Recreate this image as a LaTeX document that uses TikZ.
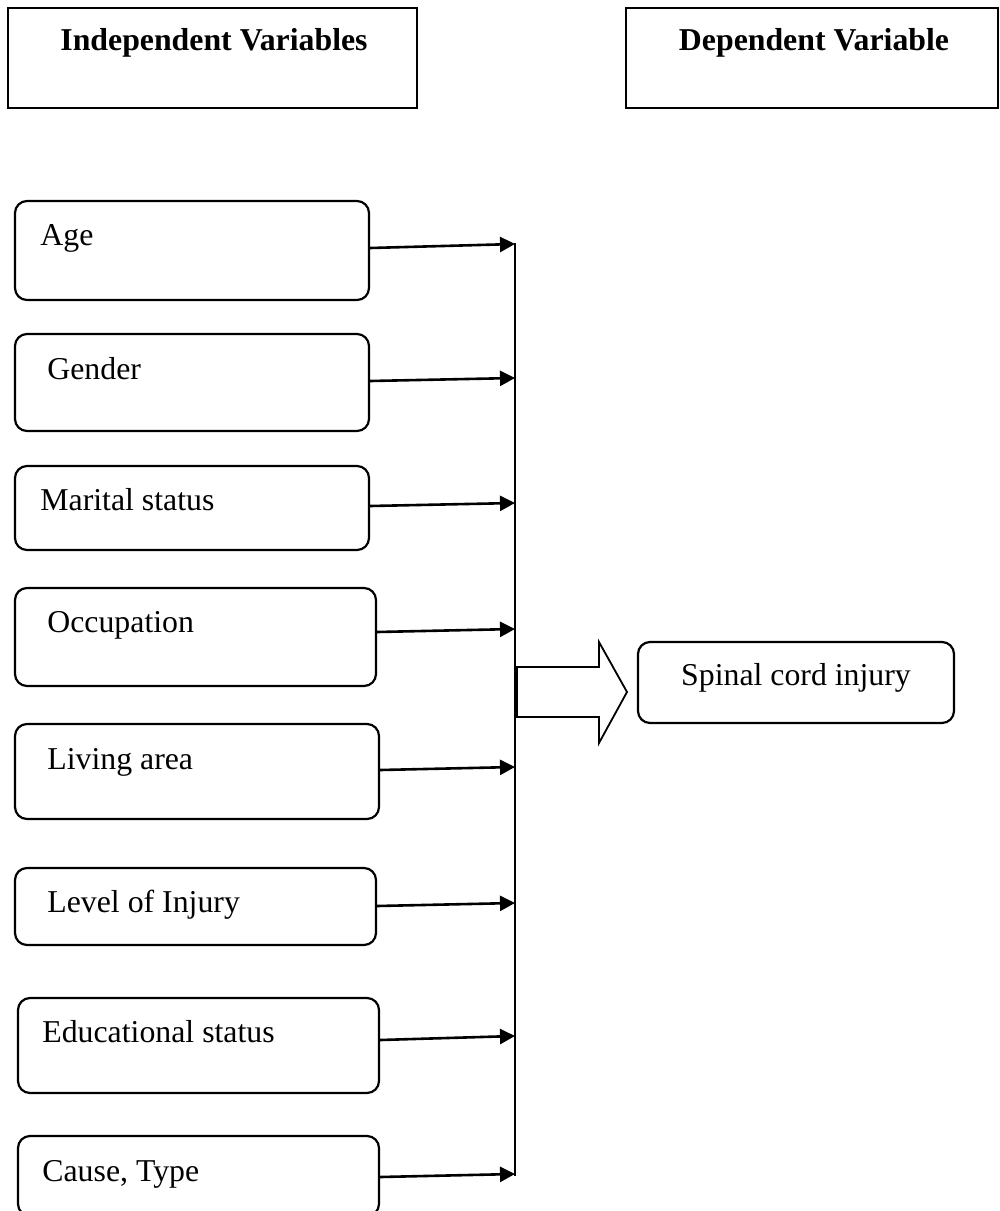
\documentclass[tikz,border=0pt]{standalone}
\usepackage{fontspec}
\setmainfont{Liberation Serif}
\usetikzlibrary{arrows.meta,calc,fit}
\begin{document}
\begin{tikzpicture}[x=0.5pt,y=-0.5pt,
  font=\fontsize{15.9}{19}\selectfont,
  hbox/.style={draw,line width=1.1pt,inner sep=0pt},
  ibox/.style={draw,line width=1.1pt,rounded corners=6pt,inner sep=0pt},
  lbl/.style={anchor=base west,inner sep=0pt},
  head/.style={anchor=base,inner sep=0pt,font=\fontsize{15.9}{19}\selectfont\bfseries},
  feed/.style={line width=1.3pt,-{Triangle[length=7.5pt,width=7.5pt]}},
  bus/.style={line width=0.85pt},
  bigarrow/.style={draw,line width=0.9pt,fill=white},
]
\useasboundingbox (0,0) rectangle (1000,1211);

% header boxes
\node[hbox,fit={(8,8)(417,108)}] (indep) {};
\node[hbox,fit={(626,8)(998,108)}] (dep) {};
\node[head] (indepT) at (214,50) {Independent Variables};
\node[head] (depT) at (814,50) {Dependent Variable};

% independent variable boxes
\node[ibox,fit={(15,201)(369,300)}] (age) {};
\node[ibox,fit={(15,334)(369,431)}] (gender) {};
\node[ibox,fit={(15,466)(369,550)}] (marital) {};
\node[ibox,fit={(15,588)(376,686)}] (occ) {};
\node[ibox,fit={(15,724)(379,819)}] (living) {};
\node[ibox,fit={(15,868)(376,945)}] (level) {};
\node[ibox,fit={(18,998)(379,1093)}] (edu) {};
\node[ibox,fit={(18,1136)(379,1216)}] (cause) {};

\node[lbl] (ageT) at (40,245) {Age};
\node[lbl] (genderT) at (47,379) {Gender};
\node[lbl] (maritalT) at (40,510) {Marital status};
\node[lbl] (occT) at (47,632) {Occupation};
\node[lbl] (livingT) at (47,769) {Living area};
\node[lbl] (levelT) at (47,912) {Level of Injury};
\node[lbl] (eduT) at (42,1042) {Educational status};
\node[lbl] (causeT) at (42,1181) {Cause, Type};

% bus line
\coordinate (busTop) at (515,243);
\coordinate (busBot) at (515,1176);
\draw[bus] (busTop) -- (busBot);

\coordinate (tAge) at (515,244);
\coordinate (tGender) at (515,378);
\coordinate (tMarital) at (515,503);
\coordinate (tOcc) at (515,629);
\coordinate (tLiving) at (515,767);
\coordinate (tLevel) at (515,903);
\coordinate (tEdu) at (515,1036);
\coordinate (tCause) at (515,1174);

\draw[feed] ($(age.east)+(0,-2.5)$) -- (tAge);
\draw[feed] ($(gender.east)+(0,-1.5)$) -- (tGender);
\draw[feed] ($(marital.east)+(0,-2)$) -- (tMarital);
\draw[feed] ($(occ.east)+(0,-5)$) -- (tOcc);
\draw[feed] ($(living.east)+(0,-1.5)$) -- (tLiving);
\draw[feed] ($(level.east)+(0,-0.5)$) -- (tLevel);
\draw[feed] ($(edu.east)+(0,-5.5)$) -- (tEdu);
\draw[feed] ($(cause.east)+(0,1)$) -- (tCause);

% block arrow
\draw[bigarrow] (517,667) -- (599,667) -- (599,642) -- (627,692) -- (599,743) -- (599,717) -- (517,717) -- cycle;

% dependent variable box
\node[ibox,fit={(638,642)(954,723)}] (sci) {};
\node[anchor=base,inner sep=0pt] (sciT) at (796,685) {Spinal cord injury};
\end{tikzpicture}
\end{document}
